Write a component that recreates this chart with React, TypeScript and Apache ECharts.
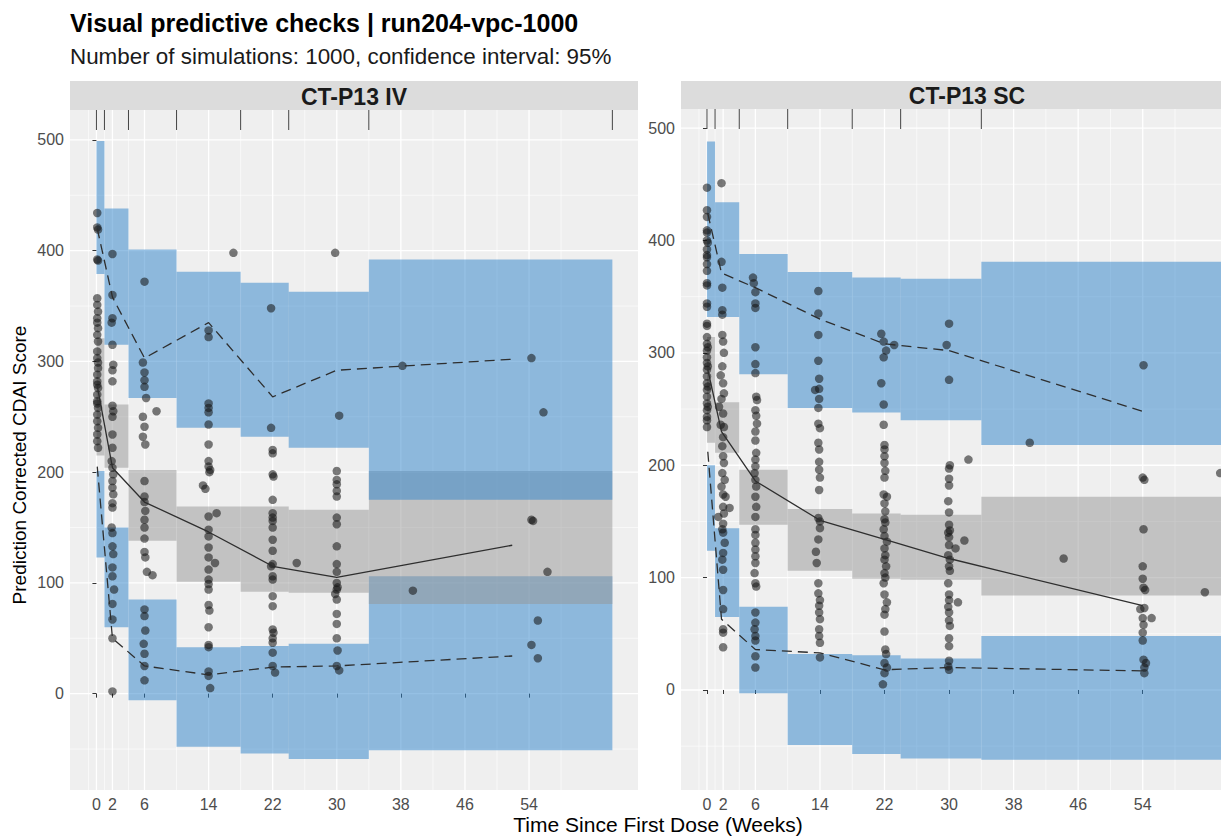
import React, { useEffect, useRef } from "react";
import * as echarts from "echarts";

// ---------- data ----------
const binEdges = [0, 1, 4, 10, 18, 24, 34, 64.4];
const xBreaks = [0, 2, 6, 14, 22, 30, 38, 46, 54];
const xMinorBreaks = [-1, 1, 4, 10, 18, 26, 34, 42, 50, 58];
const yBreaks = [0, 100, 200, 300, 400, 500];
const yMinorBreaks = [-50, 50, 150, 250, 350, 450];

// CT-P13 IV: simulated CI of percentiles per bin
const ivUpperLo = [379, 315, 267, 240, 232, 222, 175];
const ivUpperHi = [499, 438, 401, 381, 371, 363, 392];
const ivMedLo = [215, 204, 138, 101, 92, 91, 81];
const ivMedHi = [321, 261, 202, 169, 169, 166, 201];
const ivLowLo = [123, 60, -6, -48, -54, -59, -51];
const ivLowHi = [201, 150, 85, 42, 43, 45, 106];
// observed percentiles
const ivObsT = [0.1, 2, 6, 14, 22, 30, 51.9];
const ivObs95 = [420, 358, 303, 335, 268, 292, 302];
const ivObs50 = [278, 204, 173, 146, 115, 105, 134];
const ivObs5 = [205, 50, 25, 17, 24, 25, 34];
// observations [time, value]
const ivPoints = [
  [0.1,434],[0.1,421],[0.2,419],[0.1,392],[0.2,391],
  [0.1,357],[0.1,351],[0.2,345],[0.1,339],[0.1,335],[0.2,330],[0.1,324],[0.2,318],[0.1,309],[0.1,303],[0.2,294],[0.1,288],[0.1,282],[0.2,276],[0.1,270],[0.1,264],[0.2,258],[0.1,252],[0.1,246],[0.2,240],[0.1,234],[0.1,228],[0.2,222],[0.1,279],[0.2,299],[0.1,262],
  [2,397],[2,360],[2,339],[1.9,335],[2,315],[2.1,297],[2,292],[2,282],[2,260],[2.1,255],[2,250],[2,234],[2,222],[1.9,210],[2,204],[2.1,198],[2,192],[2,186],[2.1,180],[2,172],[2,168],[1.9,150],[2,145],[2,133],[2.1,126],[2,114],[2,106],[2.2,94],[2,81],[2,67],[2,50],[2,2],
  [6,372],[5.8,299],[6,290],[6,283],[6,277],[6.2,267],[7.5,255],[5.8,250],[6,241],[5.8,232],[6.1,225],[6,192],[6,178],[6,173],[6.1,165],[6,157],[6,150],[6,140],[6,128],[6.1,123],[6.3,110],[7,107],[6,76],[6,70],[6.1,57],[5.9,45],[6,36],[6,25],[6,12],
  [17.1,398],[14,328],[14,322],[14,262],[14,258],[14,254],[14,243],[14,225],[14,210],[14,205],[14.2,202],[14.1,200],[13.3,188],[13.6,185],[15,163],[14,160],[14,148],[14,142],[14,132],[14,123],[14.8,118],[14,112],[14,103],[14,99],[14,94],[14,80],[14.1,75],[14,60],[14,44],[14,42],[14,20],[14,16],[14.2,5],
  [21.8,348],[21.8,240],[22,220],[22,217],[22,198],[22.1,196],[22,175],[22,163],[22,159],[22,156],[22,150],[22,139],[22,129],[22,117],[21.8,115],[22,106],[22,103],[22,88],[22,79],[22,58],[22.1,55],[22,50],[22,46],[22,37],[22,25],[22.3,19],[25,118],
  [29.8,398],[30.3,251],[30,201],[30,193],[30,189],[30,183],[30,178],[30,159],[30,153],[30,133],[30,117],[30,110],[30,100],[30.1,96],[30,94],[29.8,90],[30,85],[30,72],[30,63],[30,50],[30.1,39],[30,25],[30.3,21],[38.2,296],[39.5,93],
  [54.3,303],[55.8,254],[54.3,157],[54.5,156],[56.3,110],[55.1,66],[54.3,44],[55.1,32],
];

// CT-P13 SC
const scUpperLo = [332, 332, 281, 251, 247, 240, 218];
const scUpperHi = [488, 434, 388, 372, 367, 366, 381];
const scMedLo = [220, 211, 147, 106, 99, 98, 84];
const scMedHi = [314, 256, 196, 161, 157, 156, 172];
const scLowLo = [124, 65, -3, -49, -57, -61, -62];
const scLowHi = [200, 144, 74, 32, 31, 28, 48];
const scObsT = [0.1, 1.8, 6, 14, 22, 30, 54];
const scObs95 = [424, 371, 358, 330, 308, 302, 248];
const scObs50 = [285, 230, 186, 151, 134, 117, 75];
const scObs5 = [212, 63, 36, 33, 18, 20, 17];
const scPoints = [
  [0,447],[0,427],[0,421],[0,409],[0,407],[0,400],[0.1,398],[0,392],[0,387],[0,385],[0,379],[0,373],[0,362],[0,360],[0,344],[0,341],[0,326],[0,324],[0,314],[0,308],[0,302],[0,296],[0,291],[0,285],[0,279],[0,273],[0,267],[0,261],[0,255],[0,249],[0,243],[0,240],[0,234],[0.1,305],[0.1,288],[0.1,270],[0.1,252],
  [1.8,451],[1.8,381],[1.9,358],[1.9,338],[1.9,334],[1.9,316],[2,310],[2.1,300],[1.9,288],[1.7,280],[2,273],[2.1,264],[1.8,259],[1.5,252],[2,246],[1.7,236],[2.1,234],[2,225],[1.9,217],[2,208],[2.1,202],[1.9,193],[2.2,187],[1.8,181],[2,174],[2.3,172],[2,163],[2.8,162],[2.1,157],[1.4,154],[2,148],[1.9,143],[2,140],[2.2,131],[2,122],[1.9,116],[2,107],[2,89],[2,72],[2,54],[2,51],[2,38],
  [5.7,367],[5.8,362],[6,354],[6,344],[6,340],[6,305],[6,290],[6,282],[6.1,261],[6.2,258],[6,249],[6.1,244],[6.2,237],[6,230],[6,222],[6.1,211],[6,205],[6,199],[5.9,193],[6,187],[6.1,181],[6,172],[6.1,163],[6,154],[6,143],[6,138],[6,131],[6,125],[6,119],[6,113],[5.9,104],[6,95],[6.1,92],[6,69],[6,60],[5.9,54],[6,48],[6,44],[6,30],[6,20],
  [13.8,355],[13.8,335],[13.8,316],[13.8,293],[13.9,277],[13.9,268],[13.4,267],[13.9,259],[13.8,251],[13.8,237],[14,233],[13.8,220],[13.9,214],[13.9,203],[13.9,196],[14,189],[13.9,178],[13.8,153],[14,150],[14,144],[13.8,134],[13.5,123],[13.6,113],[13.8,95],[13.8,86],[14,80],[13.9,75],[13.9,69],[14,63],[13.9,54],[13.9,48],[14,42],[14,29],
  [21.6,317],[21.9,310],[23.2,307],[22.2,302],[21.9,296],[21.6,273],[21.9,254],[21.9,236],[22,218],[22,214],[22,208],[22,202],[22.1,195],[22,189],[21.9,174],[22.3,172],[22,166],[22.1,159],[22,152],[22.1,149],[21.9,143],[22,137],[22.3,132],[22,126],[22.1,120],[22,116],[22.2,110],[22,104],[22.1,100],[21.9,95],[22,85],[22.3,78],[22.1,72],[22,67],[22,52],[22.1,36],[22.2,32],[22,24],[22.3,20],[22,15],[21.8,5],
  [30,326],[29.7,307],[30,276],[30.1,200],[30,197],[30,188],[30,182],[29.9,168],[30,158],[30,147],[30.1,142],[29.9,140],[30,136],[30,129],[29.9,120],[30.1,116],[30,110],[30.1,106],[29.9,95],[30,85],[30,80],[29.9,74],[30,69],[30,62],[30.1,57],[30,46],[30,39],[30,26],[29.9,21],[30,18],
  [32.4,205],[31.9,133],[30.8,126],[31.1,78],[40,220],[44.2,117],
  [54.1,289],[54,189],[54.2,187],[54.1,143],[54,110],[54,99],[54.1,91],[54.3,89],[54.2,73],[53.7,72],[54,64],[55.1,64],[54.1,58],[54,51],[54,44],[54.1,27],[54.4,24],[54.2,20],[54.2,15],
  [61.7,87],[63.6,193],
];

const panelNames = ["CT-P13 IV", "CT-P13 SC"];

// ---------- styling ----------
const FONT = "'Liberation Sans', Arial, Helvetica, sans-serif";
const BG = "#EFEFEF";
const BLUE = "rgba(44,130,202,0.5)";
const GREY = "rgba(150,150,150,0.5)";
const LINE = "#2E2E2E";
const POINT = "rgba(20,20,20,0.7)";

// the right-hand panel runs past the picture's right edge
const grids = [
  { left: 70, top: 110, width: 568, height: 680 },
  { left: 681, top: 109, width: 540, height: 681 },
];
const yRanges = [
  [-87, 527],
  [-89, 517],
];
const xRanges = [
  [-3.3, 67.6],
  [-3.22, 63.7],
];
const stripWidths = [568, 572];

function bandData(lo: number[], hi: number[]) {
  return lo.map((l, i) => [binEdges[i], binEdges[i + 1], l, hi[i]]);
}

function bandSeries(idx: number, lo: number[], hi: number[], color: string) {
  return {
    type: "custom",
    xAxisIndex: idx,
    yAxisIndex: idx,
    silent: true,
    clip: false,
    encode: { x: [0, 1], y: [2, 3] },
    data: bandData(lo, hi),
    renderItem: (params: any, api: any) => {
      const p0 = api.coord([api.value(0), api.value(3)]);
      const p1 = api.coord([api.value(1), api.value(2)]);
      return {
        type: "rect",
        shape: { x: p0[0], y: p0[1], width: p1[0] - p0[0], height: p1[1] - p0[1] },
        style: { fill: color },
      };
    },
  };
}

function vGridSeries(idx: number, vals: number[], width: number) {
  return {
    type: "custom",
    xAxisIndex: idx,
    yAxisIndex: idx,
    silent: true,
    z: 0,
    encode: { x: 0, y: 1 },
    data: vals.map((v) => [v, 0]),
    renderItem: (params: any, api: any) => {
      const cs = params.coordSys;
      const x = api.coord([api.value(0), 0])[0];
      return {
        type: "line",
        shape: { x1: x, y1: cs.y, x2: x, y2: cs.y + cs.height },
        style: { stroke: "#ffffff", lineWidth: width },
      };
    },
  };
}

function hGridSeries(idx: number, vals: number[], width: number) {
  return {
    type: "custom",
    xAxisIndex: idx,
    yAxisIndex: idx,
    silent: true,
    z: 0,
    encode: { x: 0, y: 1 },
    data: vals.map((v) => [0, v]),
    renderItem: (params: any, api: any) => {
      const cs = params.coordSys;
      const y = api.coord([0, api.value(1)])[1];
      return {
        type: "line",
        shape: { x1: cs.x, y1: y, x2: cs.x + cs.width, y2: y },
        style: { stroke: "#ffffff", lineWidth: width },
      };
    },
  };
}

function rugSeries(idx: number) {
  return {
    type: "custom",
    xAxisIndex: idx,
    yAxisIndex: idx,
    silent: true,
    clip: false,
    z: 5,
    encode: { x: 0, y: 1 },
    data: binEdges.map((b) => [b, 0]),
    renderItem: (params: any, api: any) => {
      const cs = params.coordSys;
      const x = api.coord([api.value(0), 0])[0];
      return {
        type: "line",
        shape: { x1: x, y1: cs.y, x2: x, y2: cs.y + 20 },
        style: { stroke: "#444444", lineWidth: 1 },
      };
    },
  };
}

function lineSeries(idx: number, t: number[], v: number[], dashed: boolean) {
  return {
    type: "line",
    xAxisIndex: idx,
    yAxisIndex: idx,
    silent: true,
    symbol: "none",
    z: 4,
    data: t.map((x, i) => [x, v[i]]),
    lineStyle: { color: LINE, width: 1.3, type: dashed ? [10, 6] : "solid" },
  };
}

function pointSeries(idx: number, pts: number[][]) {
  return {
    type: "scatter",
    xAxisIndex: idx,
    yAxisIndex: idx,
    silent: true,
    z: 3,
    symbolSize: 8.5,
    itemStyle: { color: POINT },
    data: pts,
  };
}

export default function App() {
  const ref = useRef<HTMLDivElement>(null);

  useEffect(() => {
    if (!ref.current) return;
    const chart = echarts.init(ref.current, null, { renderer: "svg" });

    const axisLabelStyle = { fontFamily: FONT, fontSize: 16, color: "#4D4D4D" };

    const xAxes = [0, 1].map((i) => ({
      type: "value",
      gridIndex: i,
      min: xRanges[i][0],
      max: xRanges[i][1],
      axisLine: { show: false },
      splitLine: { show: false },
      axisTick: { show: true, length: 4, customValues: xBreaks, lineStyle: { color: "#333" } },
      axisLabel: { ...axisLabelStyle, margin: 6, customValues: xBreaks, showMinLabel: true, showMaxLabel: true },
    }));
    const yAxes = [0, 1].map((i) => ({
      type: "value",
      gridIndex: i,
      min: yRanges[i][0],
      max: yRanges[i][1],
      axisLine: { show: false },
      splitLine: { show: false },
      axisTick: { show: true, length: 4, customValues: yBreaks, lineStyle: { color: "#333" } },
      axisLabel: { ...axisLabelStyle, margin: 6, customValues: yBreaks },
    }));

    const panels = [
      { pts: ivPoints, uLo: ivUpperLo, uHi: ivUpperHi, mLo: ivMedLo, mHi: ivMedHi, lLo: ivLowLo, lHi: ivLowHi, t: ivObsT, o95: ivObs95, o50: ivObs50, o5: ivObs5 },
      { pts: scPoints, uLo: scUpperLo, uHi: scUpperHi, mLo: scMedLo, mHi: scMedHi, lLo: scLowLo, lHi: scLowHi, t: scObsT, o95: scObs95, o50: scObs50, o5: scObs5 },
    ];

    const series: any[] = [];
    panels.forEach((p, i) => {
      series.push(hGridSeries(i, yMinorBreaks, 0.6));
      series.push(vGridSeries(i, xMinorBreaks, 0.6));
      series.push(hGridSeries(i, yBreaks, 1.3));
      series.push(vGridSeries(i, xBreaks, 1.3));
      series.push(bandSeries(i, p.lLo, p.lHi, BLUE));
      series.push(bandSeries(i, p.mLo, p.mHi, GREY));
      series.push(bandSeries(i, p.uLo, p.uHi, BLUE));
      series.push(pointSeries(i, p.pts));
      series.push(lineSeries(i, p.t, p.o95, true));
      series.push(lineSeries(i, p.t, p.o50, false));
      series.push(lineSeries(i, p.t, p.o5, true));
      series.push(rugSeries(i));
    });

    const graphic: any[] = [
      {
        type: "text",
        left: 70,
        top: 10,
        style: { text: "Visual predictive checks | run204-vpc-1000", font: `bold 25px ${FONT}`, fill: "#000" },
      },
      {
        type: "text",
        left: 70,
        top: 45,
        style: { text: "Number of simulations: 1000, confidence interval: 95%", font: `22.4px ${FONT}`, fill: "#1A1A1A" },
      },
    ];
    grids.forEach((g, i) => {
      graphic.push({
        type: "rect",
        shape: { x: g.left, y: 81, width: stripWidths[i], height: g.top - 81 },
        style: { fill: "#DCDCDC" },
        z: 1,
      });
      graphic.push({
        type: "text",
        x: g.left + stripWidths[i] / 2,
        y: (81 + g.top) / 2 + 1,
        style: { text: panelNames[i], font: `bold 23px ${FONT}`, fill: "#1A1A1A", align: "center", verticalAlign: "middle" },
        z: 2,
      });
    });
    graphic.push({
      type: "text",
      x: 658,
      y: 824,
      style: { text: "Time Since First Dose (Weeks)", font: `21px ${FONT}`, fill: "#000", align: "center", verticalAlign: "middle" },
    });
    graphic.push({
      type: "text",
      x: 19,
      y: 465,
      rotation: Math.PI / 2,
      style: { text: "Prediction Corrected CDAI Score", font: `19px ${FONT}`, fill: "#000", align: "center", verticalAlign: "middle" },
    });

    chart.setOption({
      animation: false,
      backgroundColor: "#FFFFFF",
      grid: grids.map((g) => ({ ...g, show: true, backgroundColor: BG, borderWidth: 0, containLabel: false })),
      xAxis: xAxes,
      yAxis: yAxes,
      series,
      graphic,
    });

    return () => chart.dispose();
  }, []);

  return <div ref={ref} style={{ position: "absolute", left: 0, top: 0, width: 1221, height: 836, overflow: "hidden" }} />;
}
